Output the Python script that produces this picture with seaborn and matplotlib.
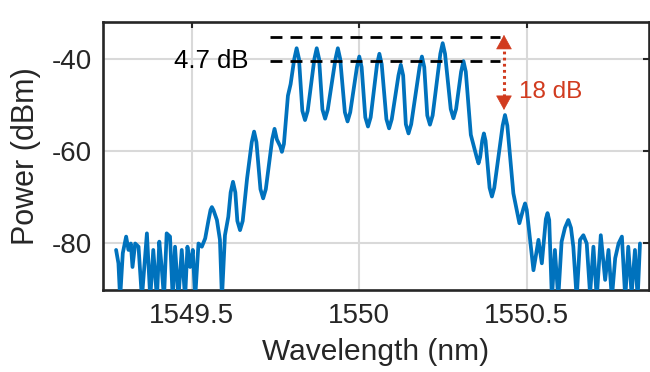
import matplotlib
matplotlib.use("Agg")
import matplotlib.pyplot as plt
import pandas as pd
import seaborn as sns

# ---- data ----
wavelength_nm = [
    1549.274, 1549.281, 1549.286, 1549.294, 1549.304, 1549.311, 1549.318, 1549.323,
    1549.331, 1549.341, 1549.351, 1549.366, 1549.376, 1549.385, 1549.396, 1549.403,
    1549.410, 1549.417, 1549.425, 1549.435, 1549.443, 1549.450, 1549.460, 1549.470,
    1549.480, 1549.487, 1549.495, 1549.503, 1549.510, 1549.520, 1549.530, 1549.540,
    1549.550, 1549.556, 1549.560, 1549.565, 1549.575, 1549.584, 1549.590, 1549.599,
    1549.609, 1549.616, 1549.623, 1549.630, 1549.636, 1549.644, 1549.652, 1549.665,
    1549.679, 1549.686, 1549.693, 1549.705, 1549.713, 1549.721, 1549.740, 1549.747,
    1549.754, 1549.764, 1549.769, 1549.775, 1549.787, 1549.795, 1549.806, 1549.813,
    1549.820, 1549.830, 1549.838, 1549.846, 1549.866, 1549.873, 1549.880, 1549.890,
    1549.898, 1549.906, 1549.929, 1549.936, 1549.943, 1549.957, 1549.965, 1549.973,
    1549.993, 1550.000, 1550.007, 1550.018, 1550.026, 1550.034, 1550.053, 1550.060,
    1550.067, 1550.081, 1550.089, 1550.097, 1550.117, 1550.124, 1550.131, 1550.139,
    1550.147, 1550.155, 1550.180, 1550.187, 1550.194, 1550.203, 1550.211, 1550.219,
    1550.242, 1550.249, 1550.256, 1550.273, 1550.281, 1550.289, 1550.304, 1550.311,
    1550.318, 1550.333, 1550.351, 1550.356, 1550.361, 1550.367, 1550.372, 1550.377,
    1550.389, 1550.396, 1550.403, 1550.428, 1550.435, 1550.442, 1550.460, 1550.478,
    1550.490, 1550.495, 1550.500, 1550.520, 1550.535, 1550.545, 1550.557, 1550.562,
    1550.567, 1550.575, 1550.584, 1550.594, 1550.604, 1550.614, 1550.624, 1550.632,
    1550.639, 1550.649, 1550.659, 1550.669, 1550.679, 1550.689, 1550.699, 1550.709,
    1550.721, 1550.734, 1550.744, 1550.754, 1550.764, 1550.774, 1550.784, 1550.794,
    1550.803, 1550.813, 1550.823, 1550.831, 1550.838,
]
power_dbm = [
    -81.5, -84.4, -92.0, -82.2, -78.6, -81.5, -80.1, -85.2,
    -80.1, -80.8, -92.0, -77.9, -92.0, -81.5, -92.0, -79.7,
    -85.2, -92.0, -77.9, -78.6, -92.0, -80.8, -92.0, -81.5,
    -92.0, -80.8, -85.2, -81.5, -92.0, -80.1, -80.8, -79.0,
    -75.0, -72.8, -72.2, -72.9, -75.0, -79.3, -92.0, -78.3,
    -74.3, -69.0, -66.7, -69.0, -75.2, -77.2, -75.2, -66.0,
    -58.1, -55.8, -58.1, -68.3, -70.3, -68.3, -57.5, -55.2,
    -57.5, -59.0, -60.2, -58.5, -48.0, -45.5, -40.0, -37.7,
    -40.0, -51.3, -53.3, -51.3, -40.0, -37.7, -40.0, -51.0,
    -53.0, -51.0, -40.0, -37.7, -40.0, -51.6, -53.6, -51.6,
    -41.8, -39.5, -41.8, -52.7, -54.7, -52.7, -41.2, -38.9,
    -41.2, -53.1, -55.1, -53.1, -43.6, -41.3, -43.6, -54.2,
    -56.2, -54.2, -41.8, -39.5, -41.8, -52.3, -54.3, -52.3,
    -38.9, -36.6, -38.9, -50.9, -52.9, -50.9, -42.8, -40.5,
    -42.8, -56.5, -61.5, -62.7, -61.3, -57.8, -56.2, -57.8,
    -68.0, -69.9, -68.0, -54.5, -52.2, -54.5, -69.2, -75.7,
    -72.5, -71.4, -72.8, -85.9, -79.3, -84.4, -74.8, -73.5,
    -75.0, -92.0, -81.5, -92.0, -79.7, -76.7, -75.0, -76.7,
    -80.8, -92.0, -79.3, -78.3, -80.1, -91.1, -80.8, -92.0,
    -78.3, -88.0, -81.5, -92.0, -83.3, -80.1, -78.6, -92.0,
    -80.8, -91.1, -81.5, -92.0, -80.1,
]

x_ticks = [1549.5, 1550.0, 1550.5]
x_tick_labels = ["1549.5", "1550", "1550.5"]
y_ticks = [-80, -60, -40]
y_tick_labels = ["-80", "-60", "-40"]
x_limits = [1549.235, 1550.865]
y_limits = [-90.2, -32.0]

flatness_levels = [-35.3, -40.4]
flatness_span = [1549.734, 1550.420]
flatness_label = "4.7 dB"
flatness_label_pos = [1549.668, -40.4]

contrast_x = 1550.432
contrast_span = [-34.8, -51.1]
contrast_label = "18 dB"
contrast_label_pos = [1550.478, -47.1]

x_label = "Wavelength (nm)"
y_label = "Power (dBm)"

# ---- styling ----
sns.set_theme(style="white")
plt.rcParams["font.family"] = ["Liberation Sans", "DejaVu Sans"]
plt.rcParams["axes.unicode_minus"] = False

line_color = "#0072BD"
red = "#D13B1F"
dark = "#262626"

fig = plt.figure(figsize=(6.5, 3.72), dpi=100)
ax = fig.add_axes([0.1585, 0.2204, 0.84, 0.7205])

df = pd.DataFrame({x_label: wavelength_nm, y_label: power_dbm})
sns.lineplot(data=df, x=x_label, y=y_label, ax=ax, color=line_color,
             linewidth=2.7, sort=False, estimator=None, zorder=3)
for ln in ax.get_lines():
    ln.set_solid_joinstyle("round")

ax.set_xlim(*x_limits)
ax.set_ylim(*y_limits)
ax.set_xticks(x_ticks)
ax.set_xticklabels(x_tick_labels)
ax.set_yticks(y_ticks)
ax.set_yticklabels(y_tick_labels)

ax.grid(True, color="#d9d9d9", linewidth=1.5)
ax.set_axisbelow(True)
for s in ax.spines.values():
    s.set_visible(True)
    s.set_color(dark)
    s.set_linewidth(1.9)
ax.tick_params(direction="in", length=4.5, width=1.5, colors=dark,
               top=True, right=True, labelsize=20)
ax.tick_params(axis="x", pad=9)
ax.tick_params(axis="y", pad=8)
ax.set_xlabel(x_label, fontsize=21.5, color=dark, labelpad=7)
ax.set_ylabel(y_label, fontsize=22, color=dark, labelpad=8)

# flatness dashed lines
for lvl in flatness_levels:
    ax.plot(flatness_span, [lvl, lvl], color="black", linewidth=2.0,
            linestyle=(0, (4.3, 2.9)), zorder=4)
ax.text(flatness_label_pos[0], flatness_label_pos[1], flatness_label,
        ha="right", va="center", fontsize=18.5, color="black")

# contrast arrow
ax.plot([contrast_x, contrast_x], [contrast_span[0] - 2.2, contrast_span[1] + 2.2],
        color=red, linewidth=2.2, linestyle=(0, (0.9, 1.1)), zorder=5)
for tip, tail in [(contrast_span[0], contrast_span[0] - 3.0),
                  (contrast_span[1], contrast_span[1] + 3.0)]:
    ax.annotate("", xy=(contrast_x, tip), xytext=(contrast_x, tail),
                arrowprops=dict(arrowstyle="-|>,head_length=0.6,head_width=0.33",
                                color=red, lw=0.5, shrinkA=0, shrinkB=0,
                                mutation_scale=16), zorder=5)
ax.text(contrast_label_pos[0], contrast_label_pos[1], contrast_label,
        ha="left", va="center", fontsize=17.5, color=red)

fig.savefig("out.png", dpi=100)
